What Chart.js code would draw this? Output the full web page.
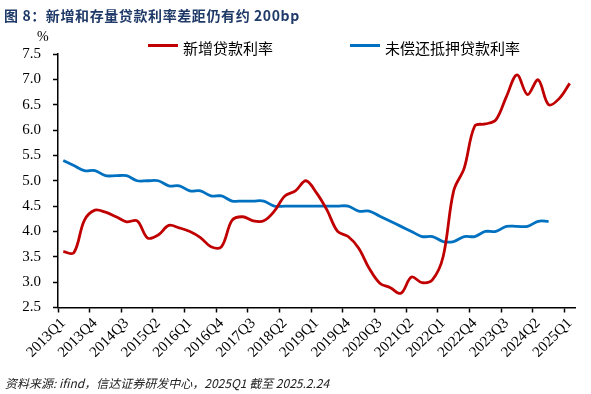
<!DOCTYPE html>
<html><head><meta charset="utf-8">
<script src="https://cdn.jsdelivr.net/npm/chart.js@4.4.1/dist/chart.umd.min.js"></script>
<style>
html,body{margin:0;padding:0;background:#fff;width:591px;height:394px;overflow:hidden;}
#wrap{position:relative;width:591px;height:394px;}
canvas{position:absolute;left:0;top:0;}
.t{position:absolute;white-space:nowrap;line-height:1;}
#title{left:4px;top:5px;font:bold 14px "Noto Sans CJK SC",sans-serif;color:#1f3a68;letter-spacing:0.6px;}
#pct{left:37px;top:29px;font:14px "Liberation Serif",serif;color:#000;}
.lg{position:absolute;height:3px;width:30px;}
.lt{font:15px "Noto Sans CJK SC",sans-serif;color:#000;}
#foot{left:5px;top:374px;font:italic 12px "Noto Sans CJK SC","Liberation Sans",sans-serif;color:#222;}
</style></head><body>
<div id="wrap">
<canvas id="c" width="591" height="394"></canvas>
<div class="t" id="title">图 8：新增和存量贷款利率差距仍有约 200bp</div>
<div class="t" id="pct">%</div>
<div class="lg" style="left:148px;top:44px;background:#C00000"></div>
<div class="t lt" style="left:183px;top:37px;">新增贷款利率</div>
<div class="lg" style="left:350px;top:44px;background:#0070C0"></div>
<div class="t lt" style="left:385px;top:37px;">未偿还抵押贷款利率</div>
<div class="t" id="foot">资料来源: ifind，信达证券研发中心，2025Q1 截至 2025.2.24</div>
</div>
<script>
const quarters = [
 '2013Q1','2013Q2','2013Q3','2013Q4','2014Q1','2014Q2','2014Q3','2014Q4',
 '2015Q1','2015Q2','2015Q3','2015Q4','2016Q1','2016Q2','2016Q3','2016Q4',
 '2017Q1','2017Q2','2017Q3','2017Q4','2018Q1','2018Q2','2018Q3','2018Q4',
 '2019Q1','2019Q2','2019Q3','2019Q4','2020Q1','2020Q2','2020Q3','2020Q4',
 '2021Q1','2021Q2','2021Q3','2021Q4','2022Q1','2022Q2','2022Q3','2022Q4',
 '2023Q1','2023Q2','2023Q3','2023Q4','2024Q1','2024Q2','2024Q3','2024Q4',
 '2025Q1'
];
const newLoanRate = [
 3.60,3.58,4.22,4.42,4.38,4.29,4.19,4.21,
 3.87,3.93,4.12,4.07,4.00,3.88,3.70,3.70,
 4.22,4.29,4.21,4.21,4.40,4.70,4.80,5.00,
 4.76,4.42,4.00,3.90,3.67,3.27,2.98,2.89,
 2.78,3.10,2.99,3.05,3.50,4.80,5.25,6.08,
 6.12,6.20,6.66,7.09,6.70,6.99,6.50,6.62,
 6.92
];
const mortgageRate = [
 5.40,5.30,5.20,5.20,5.10,5.10,5.10,5.00,
 5.00,5.00,4.90,4.90,4.80,4.80,4.70,4.70,
 4.60,4.60,4.60,4.60,4.50,4.50,4.50,4.50,
 4.50,4.50,4.50,4.50,4.40,4.40,4.30,4.20,
 4.10,4.00,3.90,3.90,3.80,3.80,3.90,3.90,
 4.00,4.00,4.10,4.10,4.10,4.20,4.20,null,
 null
];
const seriesNames = ['新增贷款利率','未偿还抵押贷款利率'];
const yMin = 2.5, yMax = 7.5, yStep = 0.5;
const labelEvery = 3;

new Chart(document.getElementById('c'), {
  type: 'line',
  data: {
    labels: quarters,
    datasets: [
      {label: seriesNames[0], data: newLoanRate, borderColor: '#C00000', backgroundColor: '#C00000',
       borderWidth: 2.8, pointRadius: 0, tension: 0.35, fill: false},
      {label: seriesNames[1], data: mortgageRate, borderColor: '#0070C0', backgroundColor: '#0070C0',
       borderWidth: 2.8, pointRadius: 0, tension: 0.35, fill: false}
    ]
  },
  options: {
    responsive: false,
    animation: false,
    devicePixelRatio: 1,
    layout: {padding: {top: 54, right: 16, bottom: 0, left: 0}},
    plugins: {legend: {display: false}, title: {display: false}, tooltip: {enabled: false}},
    scales: {
      x: {
        type: 'category',
        offset: true,
        afterFit: s => { s.height = 86.5; },
        border: {display: true, color: '#000', width: 1.5},
        grid: {offset: true, drawOnChartArea: false, drawTicks: true, tickLength: 5,
               tickColor: ctx => (ctx.index % labelEvery === 0 ? '#000' : 'rgba(0,0,0,0)'), tickWidth: 1.5},
        ticks: {
          autoSkip: false, minRotation: 45, maxRotation: 45, padding: 2,
          color: '#000', font: {family: '"Liberation Serif", serif', size: 15},
          callback: function(v, i) { return i % labelEvery === 0 ? quarters[i] : ''; }
        }
      },
      y: {
        min: yMin, max: yMax,
        afterFit: s => { s.width = 58; },
        border: {display: true, color: '#000', width: 1.5},
        grid: {drawOnChartArea: false, drawTicks: true, tickLength: 5, tickColor: '#000', tickWidth: 1.5},
        ticks: {
          stepSize: yStep, padding: 12, color: '#000',
          font: {family: '"Liberation Serif", serif', size: 15},
          callback: v => Number(v).toFixed(1)
        }
      }
    }
  }
});
</script>
</body></html>
